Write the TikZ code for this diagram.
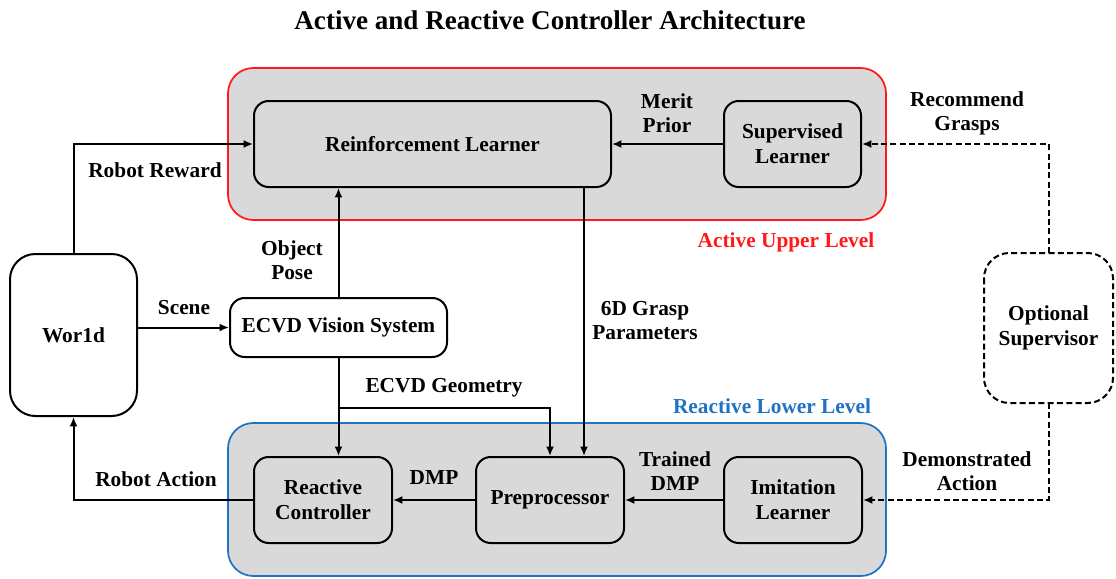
\documentclass[tikz,border=0pt]{standalone}
\usepackage{fontspec}
\setmainfont{Liberation Serif}
\usetikzlibrary{arrows.meta}
\definecolor{panelgray}{HTML}{D9D9D9}
\definecolor{upperred}{HTML}{FF1A1A}
\definecolor{lowerblue}{HTML}{1F72C4}
\tikzset{
  lbl/.style={font=\bfseries\fontsize{16}{18}\selectfont, align=center, inner sep=0pt},
  blk/.style={draw, line width=1.5pt, rounded corners=11pt, align=center,
    font=\bfseries\fontsize{16}{19}\selectfont, inner sep=2pt},
  inner/.style={blk, fill=panelgray},
  outer/.style={blk, fill=white},
  panel/.style={line width=1.3pt, rounded corners=19pt, fill=panelgray},
  arr/.style={line width=1.5pt, -{Latex[length=7pt,width=6pt]}},
  dsh/.style={line width=1.5pt, dash pattern=on 4.5pt off 2.5pt}
}
\begin{document}
\begin{tikzpicture}[x=0.75pt, y=-0.75pt]
\useasboundingbox (0,0) rectangle (1116,578);

% title
\node[font=\bfseries\fontsize{20.3}{24}\selectfont] (title) at (550,20) {Active and Reactive Controller Architecture};

% level panels
\draw[panel, draw=upperred] (228,68) rectangle (886,220);
\draw[panel, draw=lowerblue] (228,423) rectangle (886,576);
\node[lbl, text=upperred] (uplbl) at (786,242) {Active Upper Level};
\node[lbl, text=lowerblue] (lowlbl) at (772,406) {Reactive Lower Level};

% blocks
\node[inner, minimum width=267.75pt, minimum height=64.5pt] (rl) at (432.5,144) {Reinforcement Learner};
\node[inner, minimum width=102.75pt, minimum height=64.5pt] (sl) at (792.5,144) {Supervised\\Learner};
\node[inner, minimum width=103.5pt, minimum height=64.5pt] (rc) at (323,500) {Reactive\\Controller};
\node[inner, minimum width=111pt, minimum height=64.5pt] (pp) at (550,500) {Preprocessor};
\node[inner, minimum width=103.5pt, minimum height=64.5pt] (il) at (793,500) {Imitation\\Learner};
\node[outer, rounded corners=19pt, minimum width=95.25pt, minimum height=121.5pt] (world) at (73.5,335) {Wor1d};
\node[outer, minimum width=162.75pt, minimum height=44.25pt] (ecvd) at (338.5,327.5) {ECVD Vision System};
\node[outer, draw=none, rounded corners=19pt, minimum width=95.25pt, minimum height=111pt] (os) at (1048.5,328) {Optional\\Supervisor};
\draw[dsh, rounded corners=19pt] (os.north west) rectangle (os.south east);

% helper coordinates
\coordinate (gx) at (584,0);
\coordinate (gy) at (0,408);

% connectors
\draw[arr] (sl.west) -- (rl.east);
\draw[arr] (pp.west) -- (rc.east);
\draw[arr] (il.west) -- (pp.east);
\draw[arr] (world.east |- ecvd.west) -- (ecvd.west);
\draw[arr] (ecvd.north) -- (ecvd.north |- rl.south);
\draw[arr] (rl.south -| gx) -- (pp.north -| gx);
\draw[arr] (ecvd.south) -- (ecvd.south |- rc.north);
\draw[arr] (ecvd.south |- gy) -| (pp.north);
\draw[arr] (world.north) |- (rl.west);
\draw[arr] (rc.west) -| (world.south);
\draw[dsh, -{Latex[length=7pt,width=6pt]}] (os.north) |- (sl.east);
\draw[dsh, -{Latex[length=7pt,width=6pt]}] (os.south) |- (il.east);

% connector labels
\node[lbl] (lmerit) at (667,113) {Merit\\Prior};
\node[lbl] (lrec) at (967,113) {Recommend\\Grasps};
\node[lbl] (lrew) at (155,170) {Robot Reward};
\node[lbl] (lpose) at (292,260) {Object\\Pose};
\node[lbl] (lscene) at (184,308) {Scene};
\node[lbl] (lgrasp) at (645,321) {6D Grasp\\Parameters};
\node[lbl] (lgeo) at (444,388) {ECVD Geometry};
\node[lbl] (ldmp) at (434,478) {DMP};
\node[lbl] (ltrain) at (675,471) {Trained\\DMP};
\node[lbl] (lact) at (156,479) {Robot Action};
\node[lbl] (ldemo) at (967,471) {Demonstrated\\Action};
\end{tikzpicture}
\end{document}
